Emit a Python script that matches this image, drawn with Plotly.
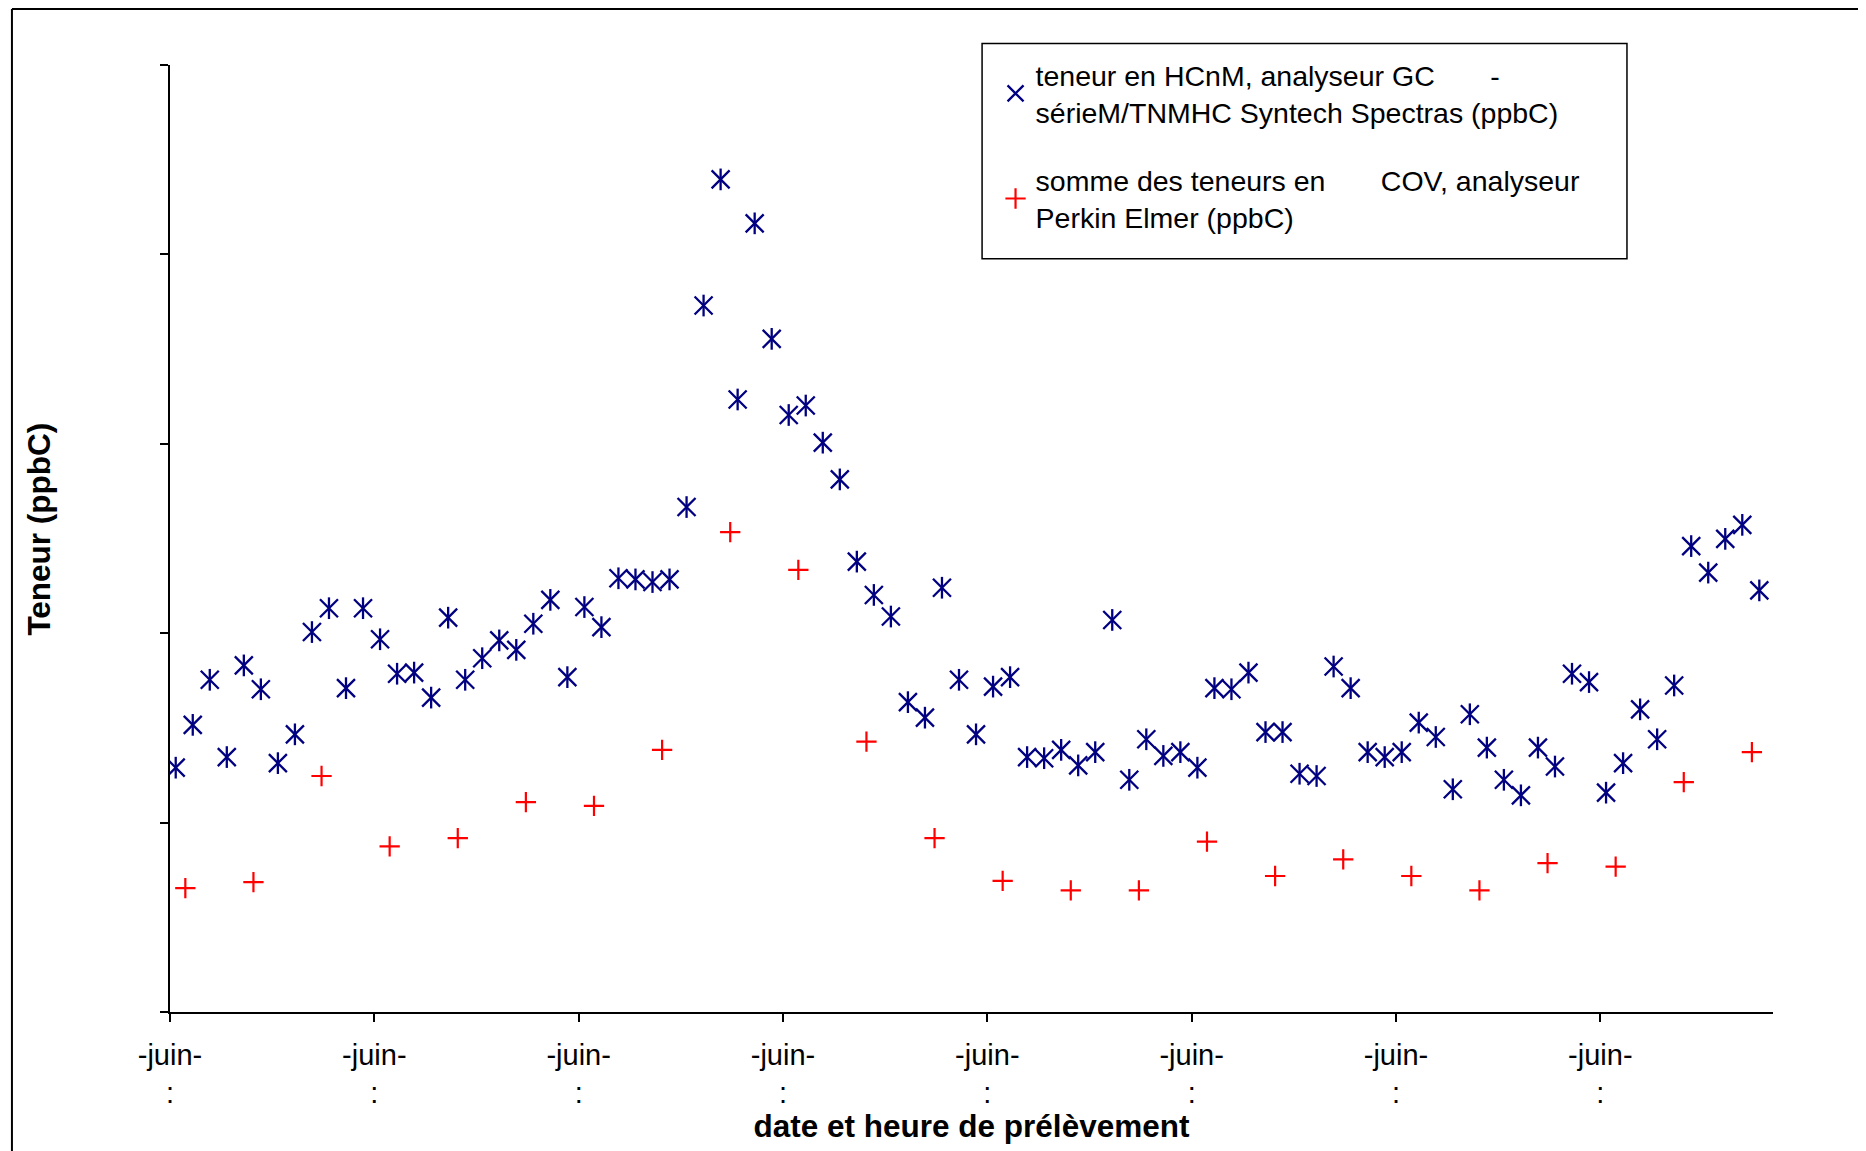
import plotly.graph_objects as go

# --- data (arbitrary y units, axis has no labels) ---
hcnm = [64.5, 75.8, 87.7, 67.3, 91.5, 85.2, 65.7, 73.3, 100.3, 106.6,
        85.5, 106.6, 98.4, 89.3, 89.6, 83.0, 104.1, 87.7, 93.4, 98.1,
        95.6, 102.5, 108.8, 88.4, 106.9, 101.6, 114.5, 114.2, 113.5, 114.2,
        133.3, 186.5, 219.8, 161.7, 208.2, 177.7, 157.6, 160.1, 150.3, 140.6,
        118.9, 110.1, 104.4, 81.8, 77.7, 112.0, 87.7, 73.3, 85.9, 88.4,
        67.3, 67.0, 69.2, 65.1, 68.6, 103.5, 61.3, 72.0, 67.6, 68.6,
        64.5, 85.5, 85.2, 89.6, 73.9, 73.9, 62.9, 62.3, 91.2, 85.5,
        68.6, 67.3, 68.6, 76.4, 72.6, 58.8, 78.6, 69.8, 61.3, 57.2,
        69.8, 64.8, 89.3, 87.1, 57.9, 65.7, 79.9, 72.0, 86.2, 123.0,
        116.0, 124.9, 128.6, 111.3]
cov = [32.7, 34.3, 62.3, 43.7, 45.9, 55.4, 54.4, 69.2, 126.7, 116.7,
       71.4, 45.9, 34.6, 32.1, 32.1, 45.0, 35.9, 40.3, 35.9, 32.1,
       39.3, 38.4, 60.7, 68.6]

# sampling: HCnM every 2 h, COV every 8 h (x in days since first tick)
hcnm_start, hcnm_step = 0.028, 1 / 12
cov_start, cov_step = 0.075, 1 / 3
hcnm_x = [hcnm_start + i * hcnm_step for i in range(len(hcnm))]
cov_x = [cov_start + j * cov_step for j in range(len(cov))]

tick_days = [0, 1, 2, 3, 4, 5, 6, 7]
tick_labels = ["-juin-<br>:"] * len(tick_days)

name_hcnm = "teneur en HCnM, analyseur GC       -<br>sérieM/TNMHC Syntech Spectras (ppbC)"
name_cov = "somme des teneurs en       COV, analyseur<br>Perkin Elmer (ppbC)"

NAVY = "#000080"
RED = "#FF0000"
FONT = "Liberation Sans, Arial, sans-serif"

fig = go.Figure()
fig.add_trace(go.Scatter(
    x=hcnm_x, y=hcnm, mode="markers", name=name_hcnm, legendgroup="a",
    marker=dict(symbol="x-thin-open", size=18, color=NAVY,
                line=dict(color=NAVY, width=2.3)),
))
fig.add_trace(go.Scatter(
    x=hcnm_x, y=hcnm, mode="markers", name=name_hcnm, legendgroup="a",
    showlegend=False, hoverinfo="skip",
    marker=dict(symbol="line-ns-open", size=15.5, color=NAVY,
                line=dict(color=NAVY, width=2.3)),
))
fig.add_trace(go.Scatter(
    x=cov_x, y=cov, mode="markers", name=name_cov, legendgroup="b",
    marker=dict(symbol="cross-thin-open", size=14.5, color=RED,
                line=dict(color=RED, width=2.2)),
))

W, H = 1866, 1151
# page body has an 8 px offset; margins compensate so the plot sits at 170..1773 x 65..1012
L, R, T, B = 162, 101, 57, 147

fig.update_layout(
    width=W, height=H,
    margin=dict(l=L, r=R, t=T, b=B, autoexpand=False),
    paper_bgcolor="white", plot_bgcolor="white",
    font=dict(family=FONT, color="black", size=26),
    showlegend=True,
    legend=dict(
        x=0.515, y=1.016, xanchor="left", yanchor="top",
        bgcolor="rgba(0,0,0,0)", borderwidth=0,
        font=dict(size=28.5, family=FONT, color="black"),
        traceorder="grouped", tracegroupgap=28,
    ),
    xaxis=dict(
        range=[0, 7.845], showgrid=False, zeroline=False,
        showline=True, linecolor="black", linewidth=2,
        ticks="outside", ticklen=8, tickwidth=1.5, tickcolor="black",
        tickvals=tick_days, ticktext=tick_labels,
        ticklabelstandoff=8,
        tickfont=dict(size=29, family=FONT, color="black"),
        title=dict(text="<b>date et heure de prélèvement</b>",
                   font=dict(size=31.5, family=FONT, color="black"), standoff=6),
    ),
    yaxis=dict(
        range=[0, 250], dtick=50, showgrid=False, zeroline=False,
        showline=True, linecolor="black", linewidth=2,
        ticks="outside", ticklen=8, tickwidth=1.5, tickcolor="black",
        showticklabels=False,
    ),
    annotations=[
        dict(text="<b>Teneur (ppbC)</b>", xref="paper", yref="paper",
             x=-0.0823, y=0.5095, xanchor="center", yanchor="middle",
             textangle=-90, showarrow=False,
             font=dict(size=31.5, family=FONT, color="black")),
    ],
    shapes=[
        # chart-area frame (top and left edges visible)
        dict(type="line", xref="paper", yref="paper",
             x0=-0.0986, x1=1.1, y0=1.0592, y1=1.0592,
             line=dict(color="black", width=2)),
        dict(type="line", xref="paper", yref="paper",
             x0=-0.0986, x1=-0.0986, y0=-0.2, y1=1.0592,
             line=dict(color="black", width=2)),
        # legend box
        dict(type="rect", xref="paper", yref="paper",
             x0=0.5066, x1=0.9089, y0=0.7955, y1=1.0227,
             line=dict(color="black", width=1.5), fillcolor="white", layer="below"),
    ],
)

fig.write_html("out.html")
